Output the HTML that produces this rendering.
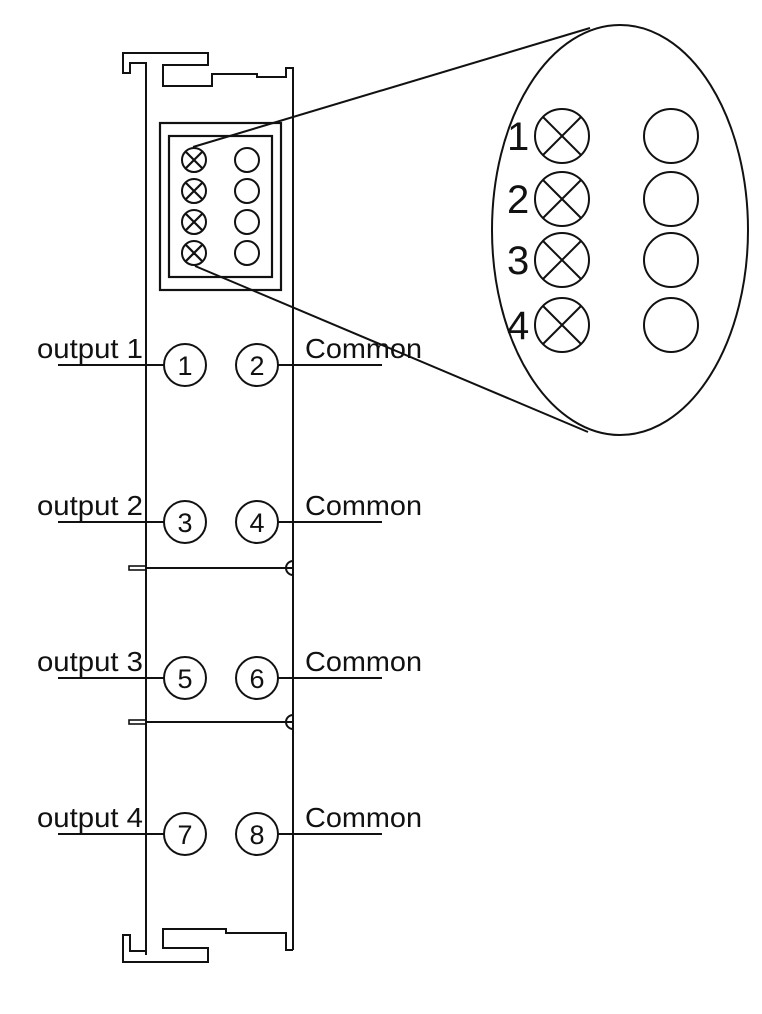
<!DOCTYPE html>
<html><head><meta charset="utf-8"><style>html,body{margin:0;padding:0;background:#fff}svg{display:block}</style></head>
<body>
<svg width="762" height="1014" viewBox="0 0 762 1014" xmlns="http://www.w3.org/2000/svg" fill="none" stroke="#111" stroke-width="2" font-family="'Liberation Sans', Arial, sans-serif">
<path d="M146,955 L146,63 L130,63 L130,73 L123,73 L123,53 L208,53 L208,65 L163,65 L163,86 L212,86 L212,74 L257,74 L257,77 L286,77 L286,68 L293,68 L293,950"/>
<path d="M146,940 L146,951 L130,951 L130,935 L123,935 L123,962 L208,962 L208,948 L163,948 L163,929 L226,929 L226,933 L286,933 L286,950 L293,950"/>
<rect x="160" y="123" width="121" height="167" stroke-width="2.2"/>
<rect x="169" y="136" width="103" height="141" stroke-width="2.2"/>
<g>
<circle cx="194" cy="160" r="12"/><circle cx="194" cy="191" r="12"/><circle cx="194" cy="222" r="12"/><circle cx="194" cy="253" r="12"/>
<path d="M185.5,151.5l17,17M202.5,151.5l-17,17M185.5,182.5l17,17M202.5,182.5l-17,17M185.5,213.5l17,17M202.5,213.5l-17,17M185.5,244.5l17,17M202.5,244.5l-17,17" stroke-width="2.2"/>
<circle cx="247" cy="160" r="12"/><circle cx="247" cy="191" r="12"/><circle cx="247" cy="222" r="12"/><circle cx="247" cy="253" r="12"/>
</g>
<line x1="193" y1="147" x2="590" y2="28"/>
<line x1="195" y1="266" x2="588" y2="432"/>
<ellipse cx="620" cy="230" rx="128" ry="205"/>
<g>
<circle cx="562" cy="136" r="27"/><circle cx="562" cy="199" r="27"/><circle cx="562" cy="260" r="27"/><circle cx="562" cy="325" r="27"/>
<path d="M543,117l38,38M581,117l-38,38M543,180l38,38M581,180l-38,38M543,241l38,38M581,241l-38,38M543,306l38,38M581,306l-38,38"/>
<circle cx="671" cy="136" r="27"/><circle cx="671" cy="199" r="27"/><circle cx="671" cy="260" r="27"/><circle cx="671" cy="325" r="27"/>
</g>
<g fill="#111" stroke="none" font-size="40">
<text x="507" y="150">1</text><text x="507" y="213">2</text><text x="507" y="274">3</text><text x="507" y="339">4</text>
</g>
<line x1="146" y1="568" x2="293" y2="568"/>
<rect x="129" y="566" width="17" height="4" stroke-width="1.6"/>
<path d="M293,561 A7,7 0 0 0 293,575"/>
<line x1="146" y1="722" x2="293" y2="722"/>
<rect x="129" y="720" width="17" height="4" stroke-width="1.6"/>
<path d="M293,715 A7,7 0 0 0 293,729"/>
<path d="M58,365H164M278,365H382M58,522H164M278,522H382M58,678H164M278,678H382M58,834H164M278,834H382"/>
<circle cx="185" cy="365" r="21"/><circle cx="257" cy="365" r="21"/>
<circle cx="185" cy="522" r="21"/><circle cx="257" cy="522" r="21"/>
<circle cx="185" cy="678" r="21"/><circle cx="257" cy="678" r="21"/>
<circle cx="185" cy="834" r="21"/><circle cx="257" cy="834" r="21"/>
<g fill="#111" stroke="none" font-size="27" text-anchor="middle">
<text x="185" y="375">1</text><text x="257" y="375">2</text>
<text x="185" y="532">3</text><text x="257" y="532">4</text>
<text x="185" y="688">5</text><text x="257" y="688">6</text>
<text x="185" y="844">7</text><text x="257" y="844">8</text>
</g>
<g fill="#111" stroke="none" font-size="28">
<text x="37" y="358" textLength="106" lengthAdjust="spacingAndGlyphs">output 1</text>
<text x="37" y="515" textLength="106" lengthAdjust="spacingAndGlyphs">output 2</text>
<text x="37" y="671" textLength="106" lengthAdjust="spacingAndGlyphs">output 3</text>
<text x="37" y="827" textLength="106" lengthAdjust="spacingAndGlyphs">output 4</text>
<text x="305" y="358" textLength="117" lengthAdjust="spacingAndGlyphs">Common</text>
<text x="305" y="515" textLength="117" lengthAdjust="spacingAndGlyphs">Common</text>
<text x="305" y="671" textLength="117" lengthAdjust="spacingAndGlyphs">Common</text>
<text x="305" y="827" textLength="117" lengthAdjust="spacingAndGlyphs">Common</text>
</g>
</svg>
</body></html>
